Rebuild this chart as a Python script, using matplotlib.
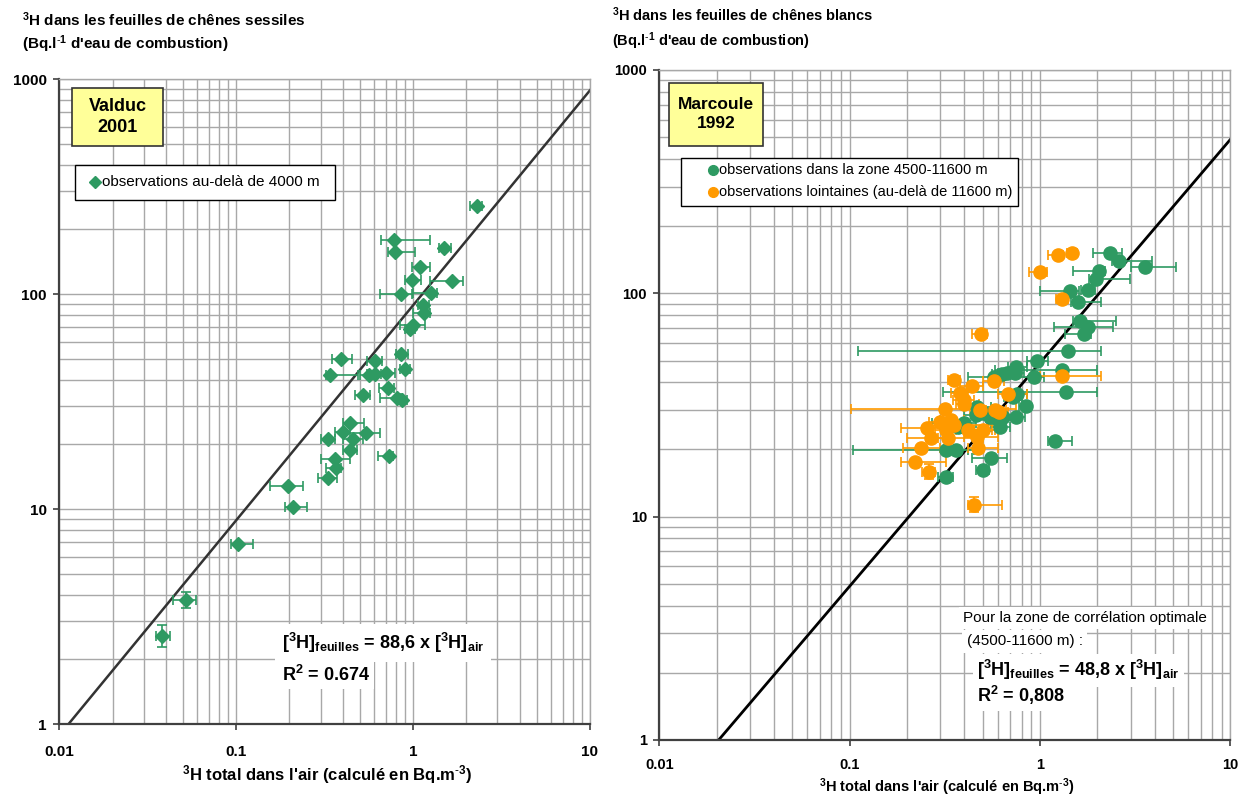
import numpy as np
import matplotlib
matplotlib.use("Agg")
import matplotlib.pyplot as plt
from matplotlib.lines import Line2D
from matplotlib.patches import Rectangle

plt.rcParams['font.family'] = ['Liberation Sans', 'DejaVu Sans']
plt.rcParams['mathtext.fontset'] = 'custom'
plt.rcParams['mathtext.rm'] = 'Liberation Sans'
plt.rcParams['mathtext.bf'] = 'Liberation Sans:bold'
plt.rcParams['mathtext.default'] = 'bf'

GREEN = '#2e9a62'
ORANGE = '#ff9a00'
GRID = '#a8a8a8'
W, H = 1250, 798

# ---------------- Valduc 2001 (left) ----------------
valduc_x = [2.31, 0.78, 1.49, 0.79, 1.09, 0.99, 1.66, 0.85, 1.27, 1.14, 1.16, 1.00, 0.96,
            0.39, 0.61, 0.85, 0.34, 0.56, 0.61, 0.70, 0.90, 0.72, 0.52, 0.81, 0.87,
            0.44, 0.40, 0.54, 0.33, 0.46, 0.44, 0.73, 0.36, 0.365, 0.33, 0.197, 0.21,
            0.1028, 0.0518, 0.0382]
valduc_y = [257, 178, 163, 157, 134, 116, 115, 100, 101, 89, 82, 72, 69,
            50, 48.8, 52.5, 42, 42, 42.5, 43, 44.7, 36.4, 34, 32.7, 32.1,
            25.2, 22.7, 22.5, 21.2, 21.2, 18.8, 17.6, 17.0, 15.5, 14.0, 12.8, 10.2,
            6.85, 3.76, 2.57]
valduc_xlo = [2.10, 0.66, 1.40, 0.72, 0.98, 0.90, 1.25, 0.65, 1.00, 1.07, 1.00, 0.84, 0.90,
              0.35, 0.55, 0.80, 0.32, 0.50, 0.55, 0.62, 0.84, 0.64, 0.47, 0.65, 0.82,
              0.40, 0.36, 0.40, 0.30, 0.40, 0.40, 0.63, 0.30, 0.32, 0.29, 0.156, 0.19,
              0.093, 0.044, 0.035]
valduc_xhi = [2.45, 1.25, 1.63, 1.03, 1.24, 1.11, 1.92, 0.98, 1.36, 1.23, 1.24, 1.17, 1.02,
              0.45, 0.67, 0.93, 0.49, 0.62, 0.66, 0.79, 0.96, 0.78, 0.57, 0.86, 0.92,
              0.53, 0.44, 0.65, 0.36, 0.52, 0.48, 0.77, 0.44, 0.39, 0.37, 0.24, 0.25,
              0.125, 0.059, 0.0425]
valduc_yerr_idx = [38, 39]
valduc_ylo = [3.45, 2.28]
valduc_yhi = [4.10, 2.89]
valduc_slope = 88.6

# ---------------- Marcoule 1992 (right) ----------------
zone_x = [2.33, 2.60, 3.56, 2.05, 1.97, 1.43, 1.79, 1.58, 1.62, 1.79, 1.70, 1.41, 0.97, 1.30,
          0.75, 0.74, 0.67, 0.63, 0.57, 0.93, 1.37, 0.76, 0.72, 0.84, 0.465, 0.50, 0.545,
          0.59, 0.64, 0.75, 0.46, 0.40, 0.37, 0.62, 0.32, 0.36, 0.55, 0.50, 0.32, 1.20]
zone_y = [152, 140, 131, 126, 116, 102.5, 103, 91.8, 75.5, 70.5, 65.6, 55.4, 50, 45.4,
          47, 44, 44, 43.6, 42.4, 42, 36.1, 35.3, 34.5, 31.4, 31.1, 29.0, 27.8,
          27.6, 27.8, 27.8, 28.5, 26.2, 25.3, 25.2, 19.9, 19.9, 18.3, 16.2, 15.1, 21.8]
zone_xlo = [1.89, 2.40, 3.00, 1.49, 1.80, 1.00, 1.65, 1.45, 1.50, 1.18, 1.35, 0.11, 0.85, 0.58,
            0.68, 0.65, 0.60, 0.56, 0.42, 0.60, 0.31, 0.68, 0.65, 0.78, 0.40, 0.45, 0.48,
            0.52, 0.55, 0.66, 0.40, 0.27, 0.32, 0.55, 0.104, 0.32, 0.44, 0.46, 0.29, 1.10]
zone_xhi = [2.69, 3.90, 5.20, 2.20, 2.97, 1.60, 1.95, 2.10, 2.50, 2.42, 1.85, 2.10, 1.10, 2.00,
            0.85, 0.82, 0.75, 0.70, 0.65, 1.05, 2.00, 0.85, 0.80, 0.89, 0.55, 0.60, 0.62,
            0.66, 0.72, 0.83, 0.52, 0.46, 0.42, 0.70, 0.45, 0.42, 0.67, 0.54, 0.35, 1.48]

far_x = [1.47, 1.24, 1.00, 1.31, 0.488, 1.30, 0.575, 0.355, 0.4375, 0.68, 0.38, 0.397, 0.40,
         0.317, 0.483, 0.58, 0.61, 0.30, 0.34, 0.355, 0.256, 0.32, 0.33, 0.42, 0.465, 0.50,
         0.266, 0.238, 0.47, 0.22, 0.26, 0.45]
far_y = [151, 148.6, 124, 94.7, 66, 42.8, 40.3, 41, 38.5, 35.4, 35.7, 33.3, 32,
         30.3, 30, 30, 29.5, 26.6, 27.0, 25.7, 24.9, 24.5, 22.5, 24.5, 22.8, 24.5,
         22.4, 20.2, 20.4, 17.6, 15.9, 11.3]
far_xlo = [1.38, 1.10, 0.88, 1.22, 0.44, 1.00, 0.50, 0.33, 0.38, 0.60, 0.34, 0.35, 0.36,
           0.102, 0.43, 0.52, 0.55, 0.26, 0.30, 0.30, 0.186, 0.28, 0.29, 0.36, 0.40, 0.45,
           0.20, 0.19, 0.42, 0.186, 0.24, 0.42]
far_xhi = [1.56, 1.32, 1.09, 1.40, 0.53, 2.10, 0.65, 0.38, 0.50, 0.85, 0.42, 0.45, 0.48,
           0.75, 0.60, 0.66, 0.68, 0.35, 0.40, 0.62, 0.32, 0.56, 0.50, 0.60, 0.60, 0.58,
           0.34, 0.30, 0.60, 0.32, 0.28, 0.63]
far_yerr_idx = [30, 31]
far_ylo = [14.8, 10.5]
far_yhi = [17.2, 12.3]
marcoule_slope = 48.8


def fx(px):
    return px / W


def fy(py):
    return 1 - py / H


def style_axes(ax, ticksize, xpad):
    ax.set_xscale('log')
    ax.set_yscale('log')
    ax.set_xlim(0.01, 10)
    ax.set_ylim(1, 1000)
    ax.grid(True, which='both', color=GRID, linewidth=1.0)
    ax.set_axisbelow(True)
    ax.set_xticks([0.01, 0.1, 1, 10])
    ax.set_xticklabels(['0.01', '0.1', '1', '10'])
    ax.set_yticks([1, 10, 100, 1000])
    ax.set_yticklabels(['1', '10', '100', '1000'])
    ax.tick_params(which='major', direction='out', length=4, width=1.2, color='#404040',
                   labelsize=ticksize)
    ax.tick_params(axis='x', which='major', pad=xpad)
    ax.tick_params(axis='y', which='major', pad=5)
    ax.tick_params(which='minor', length=0)
    for lab in ax.get_xticklabels() + ax.get_yticklabels():
        lab.set_fontweight('bold')
    for s in ['left', 'bottom']:
        ax.spines[s].set_color('#404040')
        ax.spines[s].set_linewidth(1.6)
    for s in ['top', 'right']:
        ax.spines[s].set_color(GRID)
        ax.spines[s].set_linewidth(1.0)


def draw_series(ax, xs, ys, xlo, xhi, color, marker, ms, yidx, ylo, yhi):
    xs = np.array(xs); ys = np.array(ys)
    xerr = np.vstack([xs - np.array(xlo), np.array(xhi) - xs])
    ax.errorbar(xs, ys, xerr=xerr, fmt='none', ecolor=color, elinewidth=1.2,
                capsize=3.5, capthick=1.2, zorder=3)
    for k, i in enumerate(yidx):
        ax.errorbar([xs[i]], [ys[i]], yerr=[[ys[i] - ylo[k]], [yhi[k] - ys[i]]], fmt='none',
                    ecolor=color, elinewidth=1.2, capsize=3.5, capthick=1.2, zorder=3)
    ax.plot(xs, ys, linestyle='none', marker=marker, markersize=ms, color=color,
            markeredgecolor=color, zorder=4)


def manual_legend(fig, box, entries, fontsize):
    x0, y0, x1, y1 = box
    fig.add_artist(Rectangle((fx(x0), fy(y1)), fx(x1) - fx(x0), fy(y0) - fy(y1),
                             transform=fig.transFigure, facecolor='white',
                             edgecolor='black', linewidth=1.0, zorder=10))
    for (mx, my, tx, marker, ms, color, label) in entries:
        fig.add_artist(Line2D([fx(mx)], [fy(my)], marker=marker, markersize=ms, color=color,
                              linestyle='none', transform=fig.transFigure, zorder=11))
        fig.text(fx(tx), fy(my), label, ha='left', va='center', fontsize=fontsize, zorder=11)


fig = plt.figure(figsize=(12.5, 7.98), dpi=100)

# ---------- left ----------
ax1 = fig.add_axes([0.0474, 0.0927, 0.4246, 0.8083])
style_axes(ax1, 11, 11)
lx = np.logspace(-2, 1, 300)
ax1.plot(lx, valduc_slope * lx, color='#333333', linewidth=1.8, zorder=2)
draw_series(ax1, valduc_x, valduc_y, valduc_xlo, valduc_xhi, GREEN, 'D', 7.5,
            valduc_yerr_idx, valduc_ylo, valduc_yhi)

ax1.add_patch(Rectangle((0.0239, 0.896), 0.1715, 0.090, transform=ax1.transAxes,
                        facecolor='#ffff99', edgecolor='#333333', linewidth=1.2, zorder=6))
ax1.text(0.1097, 0.941, 'Valduc\n2001', transform=ax1.transAxes, ha='center', va='center',
         fontsize=13, fontweight='bold', linespacing=1.3, zorder=7)

manual_legend(fig, (75, 165, 335, 200),
              [(95, 182, 102, 'D', 6, GREEN, 'observations au-delà de 4000 m')], 11)

ax1.text(0.419, 0.125, '[$^3$H]$_{feuilles}$ = 88,6 x [$^3$H]$_{air}$', transform=ax1.transAxes,
         ha='left', va='center', fontsize=13, fontweight='bold', zorder=7,
         bbox=dict(facecolor='white', edgecolor='none', pad=5))
ax1.text(0.419, 0.076, 'R$^2$ = 0.674', transform=ax1.transAxes,
         ha='left', va='center', fontsize=13, fontweight='bold', zorder=7,
         bbox=dict(facecolor='white', edgecolor='none', pad=3))

fig.text(0.018, 0.975, r'$^3$H dans les feuilles de chênes sessiles', ha='left', va='center',
         fontsize=11, fontweight='bold')
fig.text(0.018, 0.944, r"(Bq.l$^{\text{-}1}$ d'eau de combustion)", ha='left', va='center',
         fontsize=11, fontweight='bold')
fig.text(0.262, 0.029, r"$^3$H total dans l'air (calculé en Bq.m$^{\text{-}3}$)", ha='center',
         va='center', fontsize=12, fontweight='bold')

# ---------- right ----------
ax2 = fig.add_axes([0.5275, 0.0727, 0.4567, 0.8396])
style_axes(ax2, 10.5, 9)
ax2.plot(lx, marcoule_slope * lx, color='black', linewidth=2.0, zorder=2)
draw_series(ax2, zone_x, zone_y, zone_xlo, zone_xhi, GREEN, 'o', 9.5, [], [], [])
draw_series(ax2, far_x, far_y, far_xlo, far_xhi, ORANGE, 'o', 9.5,
            far_yerr_idx, far_ylo, far_yhi)

ax2.add_patch(Rectangle((0.0173, 0.887), 0.1637, 0.093, transform=ax2.transAxes,
                        facecolor='#ffff99', edgecolor='#333333', linewidth=1.2, zorder=6))
ax2.text(0.099, 0.934, 'Marcoule\n1992', transform=ax2.transAxes, ha='center', va='center',
         fontsize=12.5, fontweight='bold', linespacing=1.35, zorder=7)

manual_legend(fig, (681, 158, 1018, 206),
              [(713, 170, 719, 'o', 7, GREEN, 'observations dans la zone 4500-11600 m'),
               (713, 192, 719, 'o', 7, ORANGE, 'observations lointaines (au-delà de 11600 m)')],
              10.5)

ax2.text(0.532, 0.182, 'Pour la zone de corrélation optimale', transform=ax2.transAxes,
         ha='left', va='center', fontsize=11, zorder=7,
         bbox=dict(facecolor='white', edgecolor='none', pad=3))
ax2.text(0.538, 0.147, '(4500-11600 m) :', transform=ax2.transAxes,
         ha='left', va='center', fontsize=11, zorder=7,
         bbox=dict(facecolor='white', edgecolor='none', pad=3))
ax2.text(0.557, 0.104, '[$^3$H]$_{feuilles}$ = 48,8 x [$^3$H]$_{air}$', transform=ax2.transAxes,
         ha='left', va='center', fontsize=13, fontweight='bold', zorder=7,
         bbox=dict(facecolor='white', edgecolor='none', pad=3))
ax2.text(0.557, 0.067, 'R$^2$ = 0,808', transform=ax2.transAxes,
         ha='left', va='center', fontsize=13, fontweight='bold', zorder=7,
         bbox=dict(facecolor='white', edgecolor='none', pad=3))

fig.text(0.490, 0.981, r'$^3$H dans les feuilles de chênes blancs', ha='left', va='center',
         fontsize=10.5, fontweight='bold')
fig.text(0.490, 0.948, r"(Bq.l$^{\text{-}1}$ d'eau de combustion)", ha='left', va='center',
         fontsize=10.5, fontweight='bold')
fig.text(0.757, 0.014, r"$^3$H total dans l'air (calculé en Bq.m$^{\text{-}3}$)", ha='center',
         va='center', fontsize=10.5, fontweight='bold')

fig.savefig('out.png', dpi=100)
